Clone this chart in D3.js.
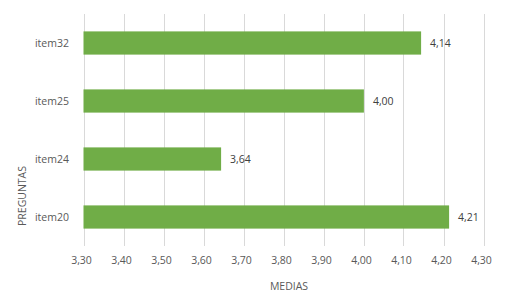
<!DOCTYPE html>
<html>
<head>
<meta charset="utf-8">
<script src="https://cdn.jsdelivr.net/npm/d3@7"></script>
<style>
  body { margin: 0; background: #fff; }
  text { font-family: "Open Sans", sans-serif; }
</style>
</head>
<body>
<svg></svg>
<script>
// values
const items = ["item32", "item25", "item24", "item20"];
const medias = [4.144, 4.001, 3.644, 4.214];
const xTicks = [3.3, 3.4, 3.5, 3.6, 3.7, 3.8, 3.9, 4.0, 4.1, 4.2, 4.3];

function makeChart() {
    let svg_width = 512, svg_height = 297;
    let left = 83.5, right = 483.5, top = 14, bottom = 246;

    let svg = d3.select('svg')
        .attr("width", svg_width)
        .attr("height", svg_height);

    let x = d3.scaleLinear()
        .domain([3.3, 4.3])
        .range([left, right]);

    let y = d3.scaleBand()
        .domain(items)
        .range([top, bottom])
        .paddingInner(0.6)
        .paddingOuter(0.3);

    let fmt = v => d3.format(".2f")(v).replace(".", ",");

    // gridlines
    svg.append('g')
        .selectAll('line')
        .data(xTicks).enter().append('line')
        .attr('x1', d => Math.round(x(d)) + 0.5)
        .attr('x2', d => Math.round(x(d)) + 0.5)
        .attr('y1', top).attr('y2', bottom)
        .attr('stroke', '#d9d9d9').attr('stroke-width', 1);

    // tick labels
    svg.append('g')
        .selectAll('text')
        .data(xTicks).enter().append('text')
        .attr('x', d => x(d) - 2)
        .attr('y', 264)
        .attr('text-anchor', 'middle')
        .attr('font-size', 10.5)
        .attr('fill', '#595959')
        .text(fmt);

    // bars
    svg.append('g')
        .selectAll('rect')
        .data(items).enter().append('rect')
        .attr('x', x(3.3))
        .attr('y', d => y(d))
        .attr('width', (d, i) => x(medias[i]) - x(3.3))
        .attr('height', y.bandwidth())
        .attr('fill', '#70ad47');

    // value labels
    svg.append('g')
        .selectAll('text')
        .data(items).enter().append('text')
        .attr('x', (d, i) => x(medias[i]) + 9)
        .attr('y', d => y(d) + y.bandwidth() / 2 + 4)
        .attr('font-size', 10.5)
        .attr('fill', '#404040')
        .text((d, i) => fmt(medias[i]));

    // category labels
    svg.append('g')
        .selectAll('text')
        .data(items).enter().append('text')
        .attr('x', 69)
        .attr('y', d => y(d) + y.bandwidth() / 2 + 4)
        .attr('text-anchor', 'end')
        .attr('font-size', 10.5)
        .attr('fill', '#595959')
        .text(d => d);

    // axis titles
    svg.append('text')
        .attr('x', 289).attr('y', 290)
        .attr('text-anchor', 'middle')
        .attr('font-size', 10.5)
        .attr('fill', '#595959')
        .text('MEDIAS');

    svg.append('text')
        .attr('transform', 'translate(26,196) rotate(-90)')
        .attr('text-anchor', 'middle')
        .attr('font-size', 10.5)
        .attr('fill', '#595959')
        .text('PREGUNTAS');
}

makeChart();
</script>
</body>
</html>
